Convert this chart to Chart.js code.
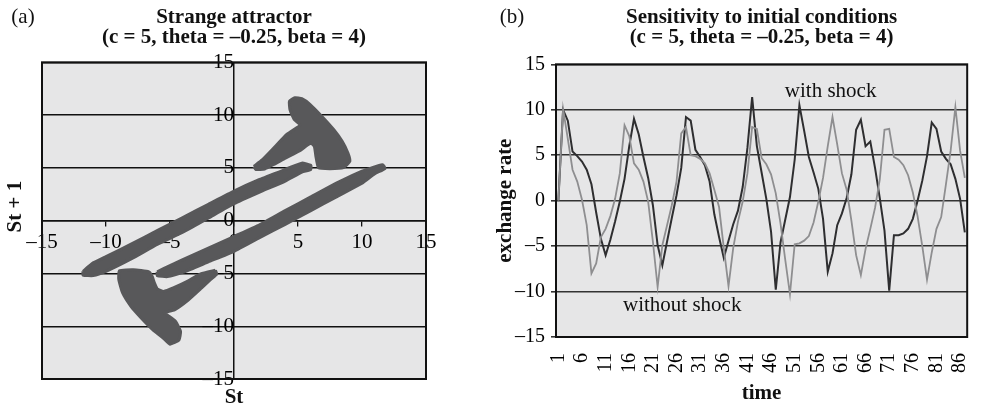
<!DOCTYPE html>
<html>
<head>
<meta charset="utf-8">
<script src="https://cdn.jsdelivr.net/npm/chart.js@4.4.1/dist/chart.umd.min.js"></script>
<style>
  html, body { margin: 0; padding: 0; background: #fff; }
  #wrap { position: relative; width: 997px; height: 410px; }
  canvas { position: absolute; top: 0; }
  #chartA { left: 0; }
  #chartB { left: 490px; }
</style>
</head>
<body>
<div id="wrap">
  <canvas id="chartA" width="490" height="410"></canvas>
  <canvas id="chartB" width="507" height="410"></canvas>
</div>
<script>
// ---- (a) strange attractor: outlines of the point clouds, [St, St+1] ----
const upperBand = [[-11.8,-4.8],[-11,-4.0],[-10,-3.4],[-8,-2.2],[-6,-0.95],[-4,0.3],[-2,1.55],[0,2.8],[2,3.9],[4,4.85],[5.3,5.45],[6.0,5.25],
                   [6.0,4.85],[5.3,4.6],[4,3.75],[2,2.7],[0,1.6],[-2,0.25],[-4,-1.1],[-6,-2.25],[-8,-3.6],[-10,-4.8],[-11,-5.2],[-11.8,-5.15]];
const lowerBand = [[-6.0,-4.85],[-5,-4.25],[-4,-3.7],[-2,-2.6],[0,-1.5],[2,-0.4],[4,0.95],[6,2.25],[8,3.55],[10,4.7],[11.6,5.3],
                   [11.8,4.95],[11,4.45],[10,3.55],[8,2.25],[6,0.95],[4,-0.35],[2,-1.6],[0,-2.9],[-2,-3.9],[-4,-4.9],[-5.2,-5.3],[-6.0,-5.2]];
const upperHook = [[1.55,5.14],[2.2,5.75],[3.2,7.0],[4.1,8.15],[4.9,8.8],[5.2,9.05],[4.7,9.6],[4.38,10.5],[4.33,11.3],[4.76,11.65],
                   [5.3,11.55],[5.95,11.0],[6.87,9.87],[7.8,8.61],[8.45,7.51],[8.9,6.4],[9.05,5.62],[8.55,5.02],[7.49,4.92],[6.6,5.02],
                   [6.4,6.09],[6.28,7.03],[6.0,7.35],[5.1,6.6],[4.05,5.95],[3.15,5.35],[2.4,4.9],[1.7,4.85]];
const lowerHook = [[-1.45,-4.7],[-2.6,-5.05],[-3.65,-5.75],[-4.7,-6.35],[-5.5,-6.7],[-6.0,-6.45],[-6.22,-5.9],[-6.4,-5.27],[-6.65,-4.85],
                   [-7.86,-4.65],[-8.95,-4.75],[-9.0,-5.58],[-8.7,-6.85],[-8.05,-8.11],[-7.25,-9.21],[-6.35,-10.32],[-5.55,-11.1],[-5.0,-11.7],
                   [-4.3,-11.3],[-4.18,-10.47],[-4.58,-9.53],[-5.2,-8.95],[-5.45,-8.7],[-4.65,-8.45],[-3.6,-7.55],[-2.55,-6.4],[-1.8,-5.55],[-1.35,-5.05]];
const attractorTicks = [-15, -10, -5, 0, 5, 10, 15];

// ---- (b) sensitivity to initial conditions ----
const timeLabels = Array.from({length: 87}, (_, i) => String(i + 1));
const withShock = [0, 10.0, 8.8, 5.4, 4.9, 4.3, 3.4, 1.8, -1.3, -4.2, -6.0, -4.3, -2.3, -0.1, 2.4, 6.0, 9.0, 7.3, 4.8, 2.5,
  -0.5, -4.9, -7.1, -4.5, -1.9, 0.6, 3.6, 9.2, 8.8, 5.6, 4.8, 3.9, 2.1, -1.5, -4.0, -6.3, -4.4, -2.6, -1.1, 1.5,
  5.8, 11.4, 6.0, 3.1, 0.2, -3.4, -9.8, -4.6, -2.1, 0.4, 4.5, 10.5, 7.7, 4.8, 3.1, 1.3, -2.0, -7.8, -5.8, -2.7,
  -1.4, 0.3, 2.9, 7.8, 8.9, 6.0, 6.5, 3.6, 0.3, -3.3, -9.9, -3.8, -3.8, -3.6, -3.1, -2.0, 0.0, 2.2, 4.9, 8.6,
  7.9, 5.4, 4.6, 4.0, 2.4, 0.2, -3.5];
const withoutShock = [0, 10.1, 6.8, 3.4, 2.1, 0.1, -2.7, -8.0, -6.9, -4.0, -3.1, -1.7, 0.2, 3.0, 8.3, 7.1, 4.1, 3.4, 2.1, -0.1,
  -4.5, -9.5, -4.9, -2.7, -0.5, 2.1, 7.4, 8.1, 5.0, 4.9, 4.6, 4.1, 3.0, 1.2, -0.7, -5.2, -9.4, -5.2, -2.3, -0.1,
  3.0, 8.1, 7.9, 4.7, 4.0, 2.9, 0.8, -2.5, -6.5, -10.3, -4.8, -4.7, -4.4, -3.9, -2.4, -0.1, 2.5, 6.0, 9.2, 6.2,
  3.0, 1.2, -2.2, -6.0, -8.2, -5.3, -3.1, -0.8, 2.3, 7.8, 7.9, 4.8, 4.5, 3.9, 2.8, 0.9, -1.7, -5.0, -8.7, -5.7,
  -3.1, -1.8, 1.8, 5.5, 10.3, 5.5, 2.5];
const seriesNames = ['with shock', 'without shock'];
const subtitle = '(c = 5, theta = \u20130.25, beta = 4)';

const SERIF = "'Liberation Serif', 'Times New Roman', serif";
const PLOT_BG = '#e6e6e7';
const CLOUD = '#58585a';
Chart.defaults.font.family = SERIF;
Chart.defaults.color = '#000';

const dashed = v => (v < 0 ? '\u2013' + (-v) : String(v));

// gray plot background + black frame
const plotFrame = {
  id: 'plotFrame',
  beforeDraw(chart) {
    const { ctx, chartArea: a } = chart;
    ctx.save();
    ctx.fillStyle = PLOT_BG;
    ctx.fillRect(a.left, a.top, a.width, a.height);
    ctx.restore();
  },
  afterDraw(chart) {
    const { ctx, chartArea: a } = chart;
    ctx.save();
    ctx.strokeStyle = '#111';
    ctx.lineWidth = 2;
    ctx.strokeRect(a.left, a.top, a.width, a.height);
    ctx.restore();
  }
};

function drawText(ctx, text, x, y, font, rotate) {
  ctx.save();
  ctx.font = font;
  ctx.fillStyle = '#111';
  ctx.textAlign = 'center';
  ctx.textBaseline = 'middle';
  ctx.translate(x, y);
  if (rotate) ctx.rotate(-Math.PI / 2);
  ctx.fillText(text, 0, 0);
  ctx.restore();
}

// ---------- panel (a) ----------
const cloudSet = pts => ({
  data: pts.concat([pts[0]]).map(([x, y]) => ({ x, y })),
  showLine: true,
  fill: 'shape',
  backgroundColor: CLOUD,
  borderColor: CLOUD,
  borderWidth: 3,
  pointRadius: 0,
  tension: 0.15
});

new Chart(document.getElementById('chartA'), {
  type: 'scatter',
  data: { datasets: [upperBand, lowerBand, upperHook, lowerHook].map(cloudSet) },
  options: {
    responsive: false,
    animation: false,
    layout: { padding: { left: 42, right: 64, top: 0, bottom: 31 } },
    plugins: {
      legend: { display: false },
      tooltip: { enabled: false },
      title: {
        display: true,
        fullSize: false,
        text: ['Strange attractor', subtitle],
        color: '#111',
        font: { size: 21, weight: 'bold', lineHeight: 0.96 },
        padding: { top: 7, bottom: 15 }
      }
    },
    scales: {
      x: {
        type: 'linear', min: -15, max: 15,
        position: { y: 0 },
        afterFit: s => { s.height = 0; },
        afterBuildTicks: s => { s.ticks = attractorTicks.map(v => ({ value: v })); },
        ticks: { callback: dashed, font: { size: 21 }, padding: 4, maxRotation: 0 },
        grid: { drawOnChartArea: false, tickLength: 5, color: '#111', lineWidth: 1.3 },
        border: { color: '#111', width: 1.5 }
      },
      y: {
        type: 'linear', min: -15, max: 15,
        position: { x: 0 },
        afterFit: s => { s.width = 0; },
        afterBuildTicks: s => { s.ticks = attractorTicks.map(v => ({ value: v })); },
        ticks: { callback: dashed, font: { size: 21 }, padding: 2 },
        grid: { color: '#111', lineWidth: 1.4, drawTicks: false },
        border: { color: '#111', width: 1.5 }
      }
    }
  },
  plugins: [plotFrame, {
    id: 'labelsA',
    afterDraw(chart) {
      const { ctx, chartArea: a } = chart;
      drawText(ctx, '(a)', 23, 17, '21px ' + SERIF);
      drawText(ctx, 'St', (a.left + a.right) / 2, a.bottom + 19, 'bold 21px ' + SERIF);
      drawText(ctx, 'St + 1', 16, (a.top + a.bottom) / 2 - 14, 'bold 21px ' + SERIF, true);
    }
  }]
});

// ---------- panel (b) ----------
new Chart(document.getElementById('chartB'), {
  type: 'line',
  data: {
    labels: timeLabels,
    datasets: [
      { label: seriesNames[1], data: withoutShock, borderColor: '#8e8e90', borderWidth: 1.8, pointRadius: 0, tension: 0, order: 1 },
      { label: seriesNames[0], data: withShock, borderColor: '#2e2e30', borderWidth: 2, pointRadius: 0, tension: 0, order: 2 }
    ]
  },
  options: {
    responsive: false,
    animation: false,
    layout: { padding: { left: 0, right: 6, top: 0, bottom: 0 } },
    plugins: {
      legend: { display: false },
      tooltip: { enabled: false },
      title: {
        display: true,
        fullSize: false,
        text: ['Sensitivity to initial conditions', subtitle],
        color: '#111',
        font: { size: 21, weight: 'bold', lineHeight: 0.96 },
        padding: { top: 7, bottom: 17 }
      }
    },
    scales: {
      x: {
        type: 'category',
        offset: true,
        afterFit: s => { s.height = 73; },
        ticks: {
          autoSkip: false, minRotation: 90, maxRotation: 90, padding: 8,
          font: { size: 20 },
          callback: (v, i) => (i % 5 === 0 ? timeLabels[i] : '')
        },
        grid: { display: false },
        border: { display: false },
        title: { display: true, text: 'time', font: { size: 21, weight: 'bold' }, padding: { top: 0, bottom: 4 }, color: '#111' }
      },
      y: {
        min: -15, max: 15,
        afterFit: s => { s.width = 66; },
        ticks: { stepSize: 5, callback: dashed, font: { size: 20 }, padding: 6 },
        grid: { color: '#333', lineWidth: 1.6, tickLength: 5 },
        border: { display: false },
        title: { display: true, text: 'exchange rate', font: { size: 21, weight: 'bold' }, padding: { top: 3, bottom: 0 }, color: '#111' }
      }
    }
  },
  plugins: [plotFrame, {
    id: 'labelsB',
    afterDraw(chart) {
      const { ctx } = chart;
      const xs = chart.scales.x, ys = chart.scales.y;
      drawText(ctx, '(b)', 22, 17, '21px ' + SERIF);
      drawText(ctx, seriesNames[0], xs.getPixelForValue(57.6), ys.getPixelForValue(12.0), '21px ' + SERIF);
      drawText(ctx, seriesNames[1], xs.getPixelForValue(26.2), ys.getPixelForValue(-11.5), '21px ' + SERIF);
    }
  }]
});
</script>
</body>
</html>
